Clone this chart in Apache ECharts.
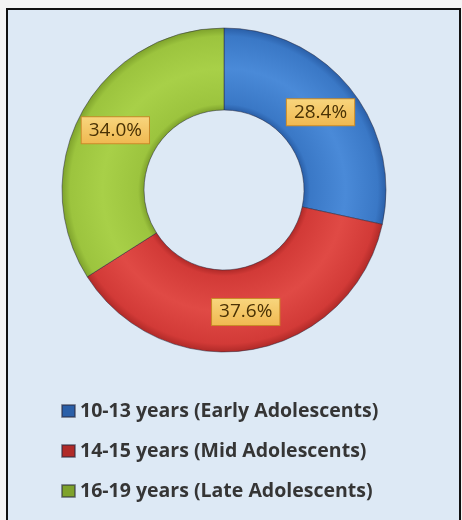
<!DOCTYPE html>
<html>
<head>
<meta charset="utf-8">
<script src="https://cdn.jsdelivr.net/npm/echarts@6/dist/echarts.min.js"></script>
<style>
html,body{margin:0;padding:0;background:#f4f4f4;}
#c{width:462px;height:520px;}
</style>
</head>
<body>
<div id="c"></div>
<script>
const categories = ['10-13 years (Early Adolescents)', '14-15 years (Mid Adolescents)', '16-19 years (Late Adolescents)'];
const values = [28.4, 37.6, 34.0];
const baseColors = ['#3a78c6', '#d23a37', '#9cc43e'];
const lightColors = ['#4a8ad8', '#e04a45', '#a8d048'];
const darkColors = ['#2a5fa8', '#b02a28', '#7ea22c'];

const cx = 224, cy = 190, rIn = 80, rOut = 162;

function ringGrad(i){
  return {
    type:'radial', x:cx, y:cy, r:rOut, global:true,
    colorStops:[
      {offset:0, color:darkColors[i]},
      {offset:rIn/rOut, color:darkColors[i]},
      {offset:(rIn+6)/rOut, color:baseColors[i]},
      {offset:0.75, color:lightColors[i]},
      {offset:0.95, color:baseColors[i]},
      {offset:1, color:darkColors[i]}
    ]
  };
}

const chart = echarts.init(document.getElementById('c'), null, {renderer:'canvas'});
chart.setOption({
  animation:false,
  backgroundColor:'#f4f4f4',
  graphic:[{
    type:'rect', z:-10, silent:true,
    shape:{x:7, y:9, width:453, height:520},
    style:{fill:'#dde9f5', stroke:'#111', lineWidth:2}
  }],
  legend:{
    orient:'vertical', left:56, top:396,
    itemWidth:13, itemHeight:12, itemGap:20, icon:'rect',
    textStyle:{fontFamily:'Open Sans', fontSize:19.5, fontWeight:'bold', color:'#353535'},
    data:categories
  },
  series:[{
    type:'pie',
    center:[cx, cy],
    radius:[rIn, rOut],
    startAngle:90,
    clockwise:true,
    label:{
      show:true, position:'inside',
      formatter:(p)=>p.value.toFixed(1)+'%',
      fontFamily:'Open Sans', fontSize:19, color:'#4a3204',
      backgroundColor:{type:'linear',x:0,y:0,x2:0,y2:1,colorStops:[{offset:0,color:'#f8d67e'},{offset:1,color:'#f0b850'}]},
      borderColor:'#c98a28', borderWidth:1,
      padding:[4,7,3,7]
    },
    labelLine:{show:false},
    itemStyle:{borderColor:'rgba(40,40,60,0.5)', borderWidth:1},
    emphasis:{disabled:true},
    data:categories.map((n,i)=>({name:n, value:values[i], itemStyle:{color:ringGrad(i)}}))
  }],
  color:baseColors
});
</script>
</body>
</html>
